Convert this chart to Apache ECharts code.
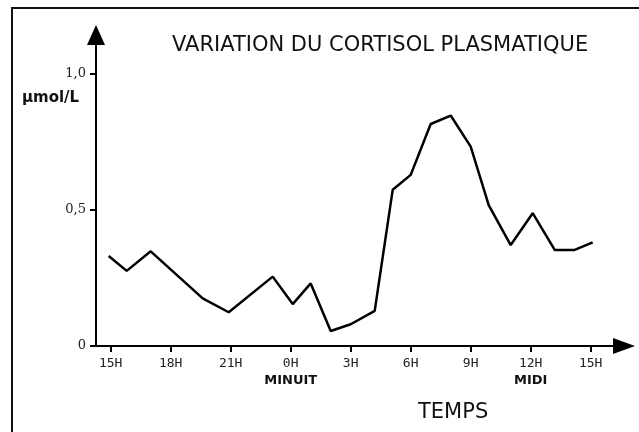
<!DOCTYPE html>
<html>
<head>
<meta charset="utf-8">
<script src="https://cdn.jsdelivr.net/npm/echarts@6/dist/echarts.min.js"></script>
<style>
  html, body { margin: 0; padding: 0; background: #fff; }
  #chart { width: 639px; height: 432px; }
</style>
</head>
<body>
<div id="chart"></div>
<script>
// heures comptées depuis 15H (0 = 15H, 9 = minuit, 21 = midi)
const hours = [-0.1, 0.8, 2, 4.6, 5.9, 8.1, 9.1, 10, 11, 12, 13.2, 14.1, 15, 16, 17, 18, 18.9, 20, 21.1, 22.2, 23.2, 24.1];
const cortisol = [0.331, 0.276, 0.348, 0.175, 0.124, 0.255, 0.154, 0.230, 0.055, 0.080, 0.129, 0.574, 0.629, 0.816, 0.847, 0.733, 0.518, 0.371, 0.488, 0.353, 0.353, 0.381];

const tickHours = [0, 3, 6, 9, 12, 15, 18, 21, 24];
const tickLabels = ['15H', '18H', '21H', '0H', '3H', '6H', '9H', '12H', '15H'];
const subLabels = { 9: 'MINUIT', 21: 'MIDI' };

const yTicks = [0, 0.5, 1.0];
const yLabels = ['0', '0,5', '1,0'];

const chart = echarts.init(document.getElementById('chart'));

const option = {
  animation: false,
  backgroundColor: '#fff',
  title: {
    text: 'VARIATION DU CORTISOL PLASMATIQUE',
    left: 167,
    top: 30,
    textStyle: { fontFamily: 'DejaVu Sans', fontSize: 21, fontWeight: 'normal', color: '#111' }
  },
  grid: { left: 96, right: 15, top: 35, bottom: 86 },
  xAxis: {
    type: 'value',
    min: -0.735,
    max: 25.665,
    splitLine: { show: false },
    axisLine: {
      onZero: false,
      lineStyle: { color: '#000', width: 2 },
      symbol: ['none', 'triangle'],
      symbolSize: [16, 22]
    },
    axisTick: {
      customValues: tickHours,
      length: 6,
      lineStyle: { color: '#000', width: 2 }
    },
    axisLabel: {
      customValues: tickHours,
      margin: 9,
      color: '#222',
      fontFamily: 'DejaVu Sans Mono',
      fontSize: 13,
      lineHeight: 17,
      formatter: v => {
        const i = tickHours.indexOf(v);
        const s = tickLabels[i];
        return subLabels[v] ? s + '\n{b|' + subLabels[v] + '}' : s;
      },
      rich: {
        b: { fontFamily: 'DejaVu Sans', fontWeight: 'bold', fontSize: 13, color: '#111', lineHeight: 17 }
      }
    }
  },
  yAxis: {
    type: 'value',
    min: 0,
    max: 1.143,
    splitLine: { show: false },
    axisLine: {
      onZero: false,
      lineStyle: { color: '#000', width: 2 },
      symbol: ['none', 'triangle'],
      symbolSize: [18, 20]
    },
    axisTick: {
      customValues: yTicks,
      length: 6,
      lineStyle: { color: '#000', width: 2 }
    },
    axisLabel: {
      customValues: yTicks,
      margin: 10,
      color: '#222',
      fontFamily: 'DejaVu Serif',
      fontSize: 13,
      formatter: v => yLabels[yTicks.indexOf(v)]
    }
  },
  graphic: [
    {
      type: 'rect',
      shape: { x: 12, y: 8, width: 700, height: 500 },
      style: { fill: 'none', stroke: '#111', lineWidth: 2 },
      silent: true
    },
    {
      type: 'text',
      left: 22,
      top: 91,
      style: { text: 'μmol/L', font: 'bold 15px "DejaVu Sans"', fill: '#111' }
    },
    {
      type: 'text',
      left: 418,
      top: 402,
      style: { text: 'TEMPS', font: '21px "DejaVu Sans"', fill: '#111' }
    }
  ],
  series: [
    {
      type: 'line',
      data: hours.map((h, i) => [h, cortisol[i]]),
      symbol: 'none',
      lineStyle: { color: '#000', width: 2.5 }
    }
  ]
};

chart.setOption(option);
</script>
</body>
</html>
